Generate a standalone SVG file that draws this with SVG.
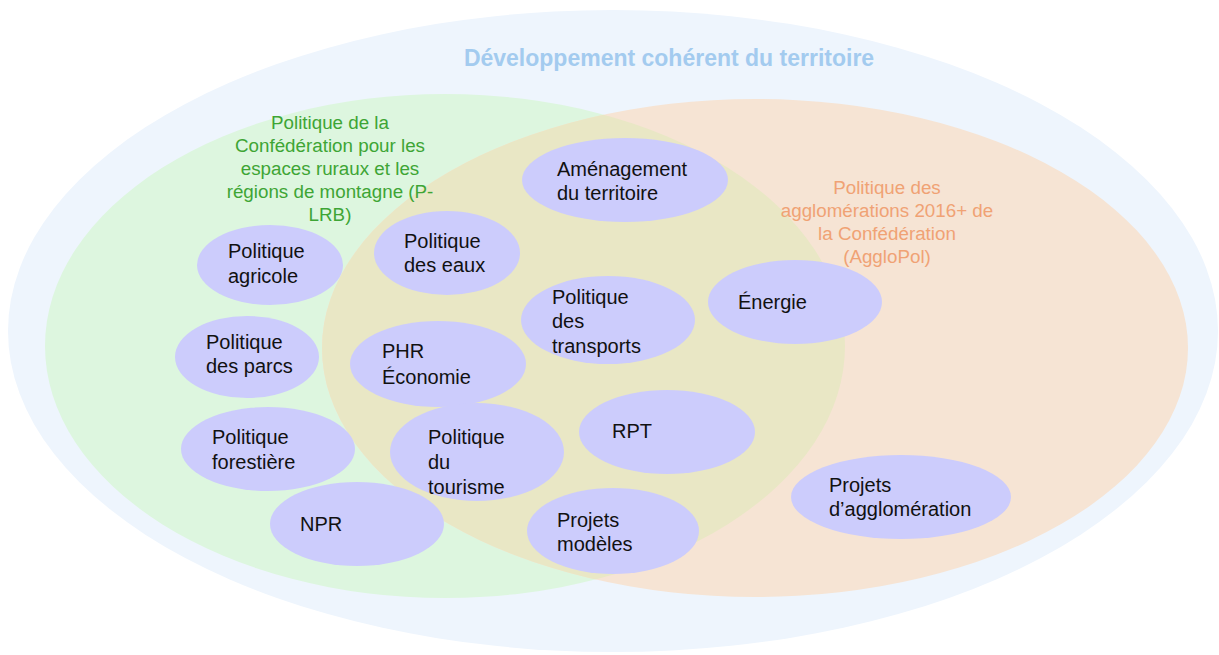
<svg xmlns="http://www.w3.org/2000/svg" width="1219" height="655" viewBox="0 0 1219 655">
<defs>
<style>
.node ellipse{fill:#ccccfc;}
.node text{font-family:"Liberation Sans",Arial,sans-serif;font-size:20px;fill:#111111;}
.lbl{font-family:"Liberation Sans",Arial,sans-serif;font-size:18.8px;text-anchor:middle;}
</style>
<clipPath id="gclip"><ellipse cx="445" cy="346" rx="400" ry="252"/></clipPath>
</defs>
<rect width="1219" height="655" fill="#ffffff"/>
<g id="regions">
<ellipse id="outer" cx="613" cy="331" rx="605" ry="321" fill="#eef5fd"/>
<ellipse id="rural" cx="445" cy="346" rx="400" ry="252" fill="#ddf6df"/>
<ellipse id="agglo" cx="755" cy="348" rx="433" ry="249" fill="#f6e4d4"/>
<ellipse cx="755" cy="348" rx="433" ry="249" fill="#e9e7c5" clip-path="url(#gclip)"/>
</g>
<g id="labels">
<text x="669" y="66" font-family="Liberation Sans, Arial, sans-serif" font-size="23" font-weight="bold" fill="#a3cbef" text-anchor="middle">Développement cohérent du territoire</text>
<g fill="#3ea535">
<text class="lbl" x="330" y="129">Politique de la</text>
<text class="lbl" x="330" y="152">Confédération pour les</text>
<text class="lbl" x="330" y="175">espaces ruraux et les</text>
<text class="lbl" x="330" y="198">régions de montagne (P-</text>
<text class="lbl" x="330" y="221">LRB)</text>
</g>
<g fill="#f0a274">
<text class="lbl" x="887" y="194">Politique des</text>
<text class="lbl" x="887" y="217">agglomérations 2016+ de</text>
<text class="lbl" x="887" y="240">la Confédération</text>
<text class="lbl" x="887" y="263">(AggloPol)</text>
</g>
</g>
<g id="connectors"></g>
<g id="n-amenagement" class="node"><ellipse cx="625" cy="180" rx="103" ry="42"/><text x="557" y="176">Aménagement</text><text x="557" y="200">du territoire</text></g>
<g id="n-agricole" class="node"><ellipse cx="270" cy="265" rx="73" ry="40"/><text x="228" y="258">Politique</text><text x="228" y="283">agricole</text></g>
<g id="n-eaux" class="node"><ellipse cx="447" cy="253" rx="73" ry="42"/><text x="404" y="248">Politique</text><text x="404" y="272">des eaux</text></g>
<g id="n-transports" class="node"><ellipse cx="608" cy="320" rx="87" ry="44"/><text x="552" y="304">Politique</text><text x="552" y="328">des</text><text x="552" y="353">transports</text></g>
<g id="n-energie" class="node"><ellipse cx="795" cy="302" rx="87" ry="42"/><text x="738" y="309">Énergie</text></g>
<g id="n-parcs" class="node"><ellipse cx="247" cy="357" rx="72" ry="41"/><text x="206" y="349">Politique</text><text x="206" y="373">des parcs</text></g>
<g id="n-phr" class="node"><ellipse cx="438" cy="364" rx="88" ry="43"/><text x="382" y="358">PHR</text><text x="382" y="384">Économie</text></g>
<g id="n-forestiere" class="node"><ellipse cx="268" cy="449" rx="87" ry="42"/><text x="212" y="444">Politique</text><text x="212" y="469">forestière</text></g>
<g id="n-tourisme" class="node"><ellipse cx="477" cy="452" rx="87" ry="49"/><text x="428" y="444">Politique</text><text x="428" y="469">du</text><text x="428" y="494">tourisme</text></g>
<g id="n-rpt" class="node"><ellipse cx="667" cy="432" rx="88" ry="42"/><text x="612" y="438">RPT</text></g>
<g id="n-npr" class="node"><ellipse cx="357" cy="524" rx="87" ry="42"/><text x="300" y="531">NPR</text></g>
<g id="n-modeles" class="node"><ellipse cx="613" cy="531" rx="86" ry="43"/><text x="557" y="527">Projets</text><text x="557" y="551">modèles</text></g>
<g id="n-projets-agglo" class="node"><ellipse cx="901" cy="497" rx="110" ry="42"/><text x="829" y="492">Projets</text><text x="829" y="516">d’agglomération</text></g>
</svg>
